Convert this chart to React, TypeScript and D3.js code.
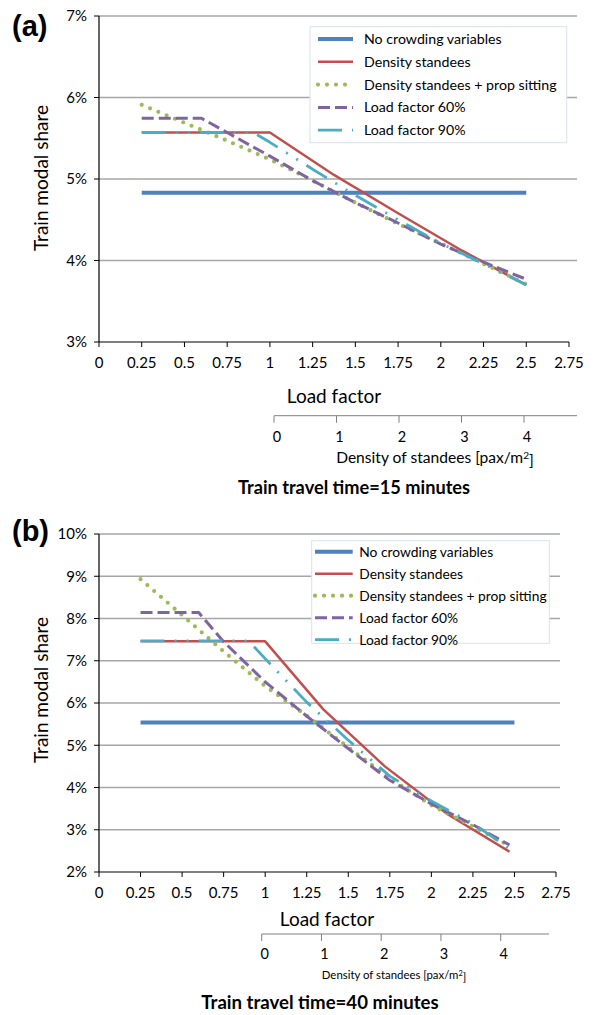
import React from 'react';
import * as d3 from 'd3';

// load factor ticks on the main x axis
const loadFactorTicks = [0, 0.25, 0.5, 0.75, 1, 1.25, 1.5, 1.75, 2, 2.25, 2.5, 2.75];
const densityTicks = [0, 1, 2, 3, 4];
const seriesNames = [
  'No crowding variables',
  'Density standees',
  'Density standees + prop sitting',
  'Load factor 60%',
  'Load factor 90%',
];

// (a) travel time 15 minutes: [load factor, modal share %]
const aNoCrowding = [[0.25, 4.83], [2.5, 4.83]];
const aDensity = [[0.25, 5.57], [1.0, 5.57], [1.375, 5.05], [1.75, 4.58], [2.125, 4.12], [2.5, 3.7]];
const aDensitySitting = [[0.25, 5.91], [0.5, 5.69], [0.75, 5.47], [1.0, 5.24], [1.25, 4.98], [1.5, 4.71], [1.75, 4.45], [2.0, 4.21], [2.25, 3.96], [2.5, 3.71]];
const aLoad60 = [[0.25, 5.745], [0.6, 5.745], [0.75, 5.57], [1.0, 5.28], [1.25, 4.98], [1.5, 4.71], [1.75, 4.46], [2.0, 4.2], [2.25, 3.98], [2.5, 3.77]];
const aLoad90 = [[0.25, 5.573], [0.9, 5.573], [1.0, 5.45], [1.25, 5.12], [1.5, 4.8], [1.75, 4.5], [2.0, 4.21], [2.25, 3.96], [2.5, 3.7]];
const aShareTicks = [3, 4, 5, 6, 7];

// (b) travel time 40 minutes
const bNoCrowding = [[0.25, 5.54], [2.5, 5.54]];
const bDensity = [[0.25, 7.46], [1.0, 7.46], [1.35, 5.85], [1.72, 4.5], [2.1, 3.36], [2.47, 2.48]];
const bDensitySitting = [[0.25, 8.93], [0.5, 8.08], [0.75, 7.22], [1.0, 6.4], [1.25, 5.7], [1.5, 4.95], [1.75, 4.22], [2.0, 3.58], [2.25, 3.08], [2.47, 2.62]];
const bLoad60 = [[0.25, 8.14], [0.6, 8.14], [0.75, 7.45], [1.0, 6.5], [1.25, 5.69], [1.5, 4.92], [1.75, 4.17], [2.0, 3.61], [2.25, 3.12], [2.47, 2.64]];
const bLoad90 = [[0.25, 7.47], [0.9, 7.47], [1.0, 7.05], [1.25, 6.02], [1.5, 5.12], [1.75, 4.27], [2.0, 3.68], [2.25, 3.15], [2.47, 2.55]];
const bShareTicks = [2, 3, 4, 5, 6, 7, 8, 9, 10];

const styles = [
  { color: '#4F81BD', width: 4, dash: null, cap: 'butt' },
  { color: '#C0504D', width: 2.5, dash: null, cap: 'butt' },
  { color: '#9BBB59', width: 4.2, dash: '0 9', cap: 'round' },
  { color: '#8064A2', width: 3, dash: '12 5', cap: 'butt' },
  { color: '#4BACC6', width: 2.8, dash: '24 10 2 10 2 10', cap: 'butt' },
];

const font = 'Lato, "Open Sans", sans-serif';

function Panel(p: any) {
  const x = d3.scaleLinear().domain([0, 2.75]).range([p.x0, p.x1]);
  const y = d3.scaleLinear().domain(p.yDomain).range([p.yBot, p.yTop]);
  const dens = d3.scaleLinear().domain([0, 4]).range([p.d0, p.d4]);
  const line = d3.line<number[]>().x(d => x(d[0])).y(d => y(d[1]));
  const lg = p.legend;

  return (
    <g fontFamily={font}>
      <text x={12} y={p.tagY} fontFamily="'Liberation Sans', Arial, sans-serif" fontWeight="bold" fontSize={29}>{p.tag}</text>

      {p.shareTicks.map((t: number) => (
        <g key={t}>
          {t !== p.yDomain[0] && <line x1={p.x0} x2={p.gridEnd} y1={y(t)} y2={y(t)} stroke="#a6a6a6" strokeWidth={1.3} />}
          <line x1={p.x0 - 5} x2={p.x0} y1={y(t)} y2={y(t)} stroke="#000" />
          <text x={p.x0 - 12} y={y(t)} dy="0.35em" textAnchor="end" fontSize={15}>{t + '%'}</text>
        </g>
      ))}

      {p.series.map((s: number[][], i: number) => (
        <path key={i} d={line(s) || ''} fill="none" stroke={styles[i].color} strokeWidth={styles[i].width}
          strokeDasharray={styles[i].dash || undefined} strokeLinecap={styles[i].cap} strokeLinejoin="round" />
      ))}

      {/* axes */}
      <line x1={p.x0} x2={p.x0} y1={p.yTop} y2={p.yBot} stroke="#000" strokeWidth={1.2} />
      <line x1={p.x0} x2={p.x1} y1={p.yBot} y2={p.yBot} stroke="#000" strokeWidth={1.2} />
      {loadFactorTicks.map(t => (
        <g key={t}>
          <line x1={x(t)} x2={x(t)} y1={p.yBot} y2={p.yBot + 5} stroke="#000" />
          <text x={x(t)} y={p.xLabY} dy="0.35em" textAnchor="middle" fontSize={15}>{String(t)}</text>
        </g>
      ))}
      <text x={p.lfX} y={p.lfY} dy="0.35em" textAnchor="middle" fontSize={19}>Load factor</text>

      <text transform={`translate(41,${p.yTitle}) rotate(-90)`} dy="0.35em" textAnchor="middle" fontSize={19}>Train modal share</text>

      {/* density of standees axis */}
      <line x1={p.d0} x2={p.dEnd} y1={p.dY} y2={p.dY} stroke="#808080" strokeWidth={1} />
      {densityTicks.map(t => (
        <g key={t}>
          <line x1={dens(t)} x2={dens(t)} y1={p.dY} y2={p.dY + 7} stroke="#808080" />
          <text x={dens(t) + 3} y={p.dTickY} dy="0.35em" textAnchor="middle" fontSize={14.5}>{String(t)}</text>
        </g>
      ))}
      <text x={p.dLabX} y={p.dLabY} dy="0.35em" textAnchor="middle" fontSize={p.dLabSize}>
        Density of standees [pax/m<tspan dy="-0.45em" fontSize={p.dLabSize * 0.65}>2</tspan><tspan dy="0.45em">]</tspan>
      </text>
      <text x={p.titleX} y={p.titleY} dy="0.35em" textAnchor="middle" fontSize={p.titleSize} fontWeight="bold">{p.title}</text>

      {/* legend */}
      <rect x={lg.x} y={lg.y} width={lg.w} height={lg.h} fill="#fff" stroke="#d9e1ec" strokeWidth={1} />
      {seriesNames.map((n, i) => {
        const ry = lg.row0 + i * lg.step;
        return (
          <g key={n}>
            <line x1={lg.s0} x2={lg.s1} y1={ry} y2={ry} stroke={styles[i].color} strokeWidth={styles[i].width}
              strokeDasharray={styles[i].dash || undefined} strokeLinecap={styles[i].cap} />
            <text x={lg.tx} y={ry} dy="0.35em" fontSize={lg.size}>{n}</text>
          </g>
        );
      })}
    </g>
  );
}

export default function App() {
  return (
    <svg width={594} height={1015} style={{ position: 'absolute', left: 0, top: 0, background: '#fff' }}>
      <Panel tag="(a)" tagY={36} x0={99} x1={569} yTop={16} yBot={342} yDomain={[3, 7]} gridEnd={577}
        shareTicks={aShareTicks} series={[aNoCrowding, aDensity, aDensitySitting, aLoad60, aLoad90]}
        xLabY={363} lfX={334} lfY={396} yTitle={178}
        d0={274} d4={524} dEnd={577} dY={415.7} dTickY={437} dLabX={435} dLabY={458} dLabSize={15.6}
        title="Train travel time=15 minutes" titleX={354} titleY={488} titleSize={18.2}
        legend={{ x: 310, y: 26.7, w: 256.7, h: 116, row0: 39, step: 22.8, s0: 318, s1: 353, tx: 364, size: 14.2 }} />
      <Panel tag="(b)" tagY={541} x0={99} x1={556} yTop={534} yBot={872} yDomain={[2, 10]} gridEnd={560}
        shareTicks={bShareTicks} series={[bNoCrowding, bDensity, bDensitySitting, bLoad60, bLoad90]}
        xLabY={893} lfX={327} lfY={919} yTitle={690}
        d0={261.7} d4={500.7} dEnd={549} dY={934} dTickY={954} dLabX={394} dLabY={975} dLabSize={11.4}
        title="Train travel time=40 minutes" titleX={320} titleY={1002} titleSize={18.6}
        legend={{ x: 311.7, y: 540.7, w: 237.6, h: 102.6, row0: 551.7, step: 22, s0: 315, s1: 352.7, tx: 359.3, size: 13.8 }} />
    </svg>
  );
}
